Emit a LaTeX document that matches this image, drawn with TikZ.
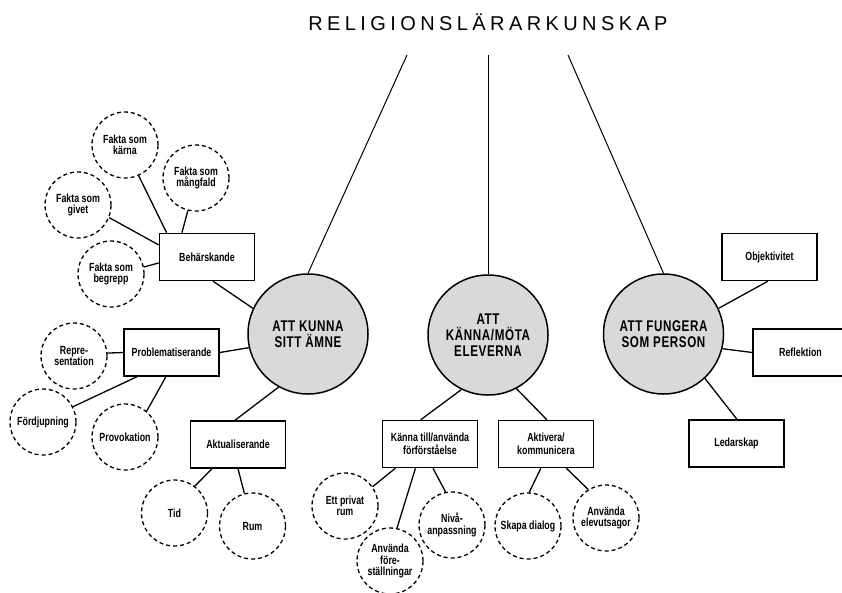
\documentclass[tikz,border=0pt]{standalone}
\usepackage{fontspec}
\setmainfont{Liberation Sans}
% narrow sans faces for the labels, wide-tracked face for the heading
\newfontfamily\narrowsans{Liberation Sans}[FakeStretch=0.75]
\newfontfamily\hubsans{Liberation Sans}[FakeStretch=0.75, LetterSpace=4]
\newfontfamily\titlesans{Liberation Sans}[LetterSpace=22]
\newcommand\labelfont{\narrowsans\bfseries\fontsize{11.8}{11.5}\selectfont}
\newcommand\boxlabelfont{\narrowsans\bfseries\fontsize{11.8}{13.3}\selectfont}
\newcommand\hubfont{\hubsans\bfseries\fontsize{15.5}{16.3}\selectfont}

\tikzset{
  hub/.style={circle, draw, line width=1.5pt, fill=black!15, minimum size=120pt,
              inner sep=0pt, align=center, font=\hubfont},
  tbox/.style={rectangle, draw, line width=1.5pt, fill=white, minimum width=95pt,
               minimum height=47pt, inner sep=0pt, align=center, font=\boxlabelfont},
  idea/.style={circle, draw, line width=1.3pt, dash pattern=on 4pt off 3pt, fill=white,
               minimum size=66pt, inner sep=0pt, align=center, font=\labelfont},
  link/.style={line width=1.3pt},
  stem/.style={line width=1pt},
}

\begin{document}
\begin{tikzpicture}[x=1pt, y=-1pt]
\useasboundingbox (0,0) rectangle (842,592);

% heading and the three stems below it
\node[font=\titlesans\fontsize{20}{24}\selectfont] (title) at (488,22) {RELIGIONSLÄRARKUNSKAP};
\coordinate (stemL) at (407,55);
\coordinate (stemM) at (488,55);
\coordinate (stemR) at (568,55);

% the three main areas
\node[hub] (kunna)  at (308,334)   {ATT KUNNA\\SITT ÄMNE};
\node[hub] (mota)   at (488,335)   {ATT\\KÄNNA/MÖTA\\ELEVERNA};
\node[hub] (person) at (663.5,334) {ATT FUNGERA\\SOM PERSON};

\draw[stem] (stemL) -- (kunna.90);
\draw[stem] (stemM) -- (mota.90);
\draw[stem] (stemR) -- (person.90);

% --- ATT KUNNA SITT ÄMNE ---
\node[tbox] (beh)  at (207,257)     {Behärskande};
\node[tbox] (prob) at (171.5,352.5) {Problematiserande};
\node[tbox] (akt)  at (238,444.5)   {Aktualiserande};

\node[idea] (karna) at (125,145) {Fakta som\\kärna};
\node[idea] (mang)  at (196,178) {Fakta som\\mångfald};
\node[idea] (givet) at (78,205)  {Fakta som\\givet};
\node[idea] (begr)  at (111,274) {Fakta som\\begrepp};

\node[idea] (repr) at (74,356)  {Repre-\\sentation};
\node[idea] (ford) at (43,422)  {Fördjupning};
\node[idea] (prov) at (125,437) {Provokation};

\node[idea] (tid) at (174.5,513) {Tid};
\node[idea] (rum) at (252.5,526) {Rum};

\draw[link] (karna.-66) -- (beh.149);
\draw[link] (mang.-104) -- (beh.136);
\draw[link] (givet.-22) -- (beh.166);
\draw[link] (begr.12)   -- (beh.-173);
\draw[link] (beh.-76)   -- (kunna.155);

\draw[link] (prob.0)    -- (kunna.193);
\draw[link] (repr.5)    -- (prob.180);
\draw[link] (prob.215)  -- (ford.27);
\draw[link] (prob.-103) -- (prov.50);

\draw[link] (kunna.-119) -- (akt.97);
\draw[link] (akt.-137)   -- (tid.53);
\draw[link] (akt.-90)    -- (rum.104);

% --- ATT KÄNNA/MÖTA ELEVERNA ---
\node[tbox] (kanna) at (430,444) {Känna till/använda\\förförståelse};
\node[tbox] (aktv)  at (546,444) {Aktivera/\\kommunicera};

\node[idea] (priv) at (345,506) {Ett privat\\rum};
\node[idea] (fore) at (390,561) {Använda\\före-\\ställningar};
\node[idea] (niva) at (452,525) {Nivå-\\anpassning};
\node[idea] (dial) at (528,526) {Skapa dialog};
\node[idea] (elev) at (606,518) {Använda\\elevutsagor};

\draw[link] (mota.-116) -- (kanna.111);
\draw[link] (mota.-62)  -- (aktv.88);
\draw[link] (kanna.-145) -- (priv.35);
\draw[link] (kanna.-121) -- (fore.78);
\draw[link] (kanna.-83)  -- (niva.101);
\draw[link] (aktv.-102)  -- (dial.88);
\draw[link] (aktv.-50)   -- (elev.122);

% --- ATT FUNGERA SOM PERSON ---
\node[tbox] (obj)  at (769.5,257)   {Objektivitet};
\node[tbox] (refl) at (800.5,352.5) {Reflektion};
\node[tbox] (led)  at (736.5,443.5) {Ledarskap};

\draw[link] (person.25)  -- (obj.-94);
\draw[link] (person.-14) -- (refl.180);
\draw[link] (person.-47) -- (led.89);

\end{tikzpicture}
\end{document}
